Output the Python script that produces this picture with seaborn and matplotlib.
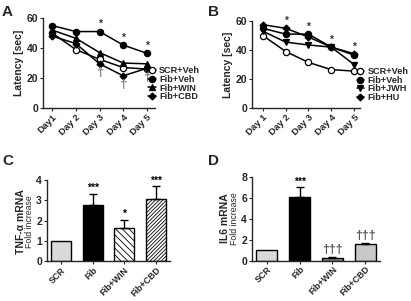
import numpy as np
import pandas as pd
import matplotlib
matplotlib.use("Agg")
import matplotlib.pyplot as plt
import seaborn as sns

sns.set_style("ticks")
plt.rcParams['font.family'] = ['Liberation Sans', 'DejaVu Sans']
plt.rcParams['font.weight'] = 'bold'
plt.rcParams['hatch.linewidth'] = 0.6

# ---- data ----
days_a = ["Day1", "Day 2", "Day 3", "Day 4", "Day 5"]
days_b = ["Day 1", "Day 2", "Day 3", "Day 4", "Day 5"]
a_scr = [50, 39, 32.5, 27, 26]
a_fib = [55, 51, 51, 42, 36.5]
a_win = [52, 46.5, 37, 30, 29.5]
a_cbd = [48, 43, 29.5, 21.5, 26.5]
a_names = ["SCR+Veh", "Fib+Veh", "Fib+WIN", "Fib+CBD"]
b_scr = [50, 39, 31.5, 26.5, 25.5]
b_fib = [55, 51, 51, 42, 36.5]
b_jwh = [53, 45.5, 43.5, 42, 30]
b_hu = [57.5, 55, 49, 42, 37.5]
b_names = ["SCR+Veh", "Fib+Veh", "Fib+JWH", "Fib+HU"]

bar_groups = ["SCR", "Fib", "Fib+WIN", "Fib+CBD"]
c_vals = [1.0, 2.75, 1.65, 3.08]
c_err = [0.0, 0.57, 0.4, 0.6]
c_sig = ["", "***", "*", "***"]
d_vals = [1.0, 6.1, 0.25, 1.6]
d_err = [0.0, 0.9, 0.1, 0.12]
d_sig = ["", "***", "\u2020\u2020\u2020", "\u2020\u2020\u2020"]

fig = plt.figure(figsize=(4.11, 3.01), dpi=100)

def line_panel(ax, days, series, names, markers, fills, star_idx, dag_idx, xlim, leg_x):
    rows = []
    for name, vals in zip(names, series):
        for d, v in zip(days, vals):
            rows.append((name, d, v))
    df = pd.DataFrame(rows, columns=["group", "day", "lat"])
    df["x"] = df["day"].map({d: i for i, d in enumerate(days)})
    for name, m, f in zip(names, markers, fills):
        sub = df[df["group"] == name]
        sns.lineplot(data=sub, x="x", y="lat", ax=ax, color="black", lw=1.1,
                     marker=m, markersize=4.5 if m != 'D' else 3.5,
                     markerfacecolor=f, markeredgecolor="black", markeredgewidth=0.9,
                     label=name, legend=False)
    ax.set_xlim(*xlim)
    ax.set_ylim(0, 60)
    ax.set_yticks([0, 20, 40, 60])
    ax.set_xticks(range(len(days)))
    ax.set_xticklabels(days, rotation=45, ha="right", rotation_mode="anchor", fontsize=6.8, fontweight="bold")
    ax.tick_params(axis="y", labelsize=7.5, length=2.5, width=0.8, pad=1)
    ax.tick_params(axis="x", length=2.5, width=0.8, pad=1)
    for lab in ax.get_yticklabels():
        lab.set_fontweight("bold")
    ax.set_xlabel("")
    ax.set_ylabel("Latency [sec]", fontsize=7.5, fontweight="bold", labelpad=2)
    for s in ["top", "right"]:
        ax.spines[s].set_visible(False)
    for s in ["left", "bottom"]:
        ax.spines[s].set_linewidth(1.0)
    top = np.max(series, axis=0)
    for i in star_idx:
        ax.text(i, top[i] + 1.5, "*", ha="center", va="bottom", fontsize=7.5, color="#333333")
    low = np.min(series, axis=0)
    for i in dag_idx:
        ax.text(i, low[i] - 2, "\u2020", ha="center", va="top", fontsize=9.5, color="#808080")
    leg = ax.legend(loc="center left", bbox_to_anchor=(leg_x, 0.27), frameon=False,
                    fontsize=6.6, handlelength=0.8, handletextpad=0.4,
                    labelspacing=-0.05, borderpad=0, borderaxespad=0)
    for t in leg.get_texts():
        t.set_fontweight("bold")

axA = fig.add_axes([0.105, 0.641, 0.272, 0.299])
line_panel(axA, days_a, [a_scr, a_fib, a_win, a_cbd], a_names,
           ["o", "o", "^", "D"], ["white", "black", "black", "black"],
           [2, 3, 4], [2, 3, 4], (-0.38, 4.34), 0.94)
axB = fig.add_axes([0.613, 0.641, 0.263, 0.289])
line_panel(axB, days_b, [b_scr, b_fib, b_jwh, b_hu], b_names,
           ["o", "o", "v", "D"], ["white", "black", "black", "black"],
           [1, 2, 3, 4], [], (-0.48, 4.26), 0.97)

def bar_panel(ax, vals, errs, sigs, colors, hatches, ymax, yticks, sigcolors, sigsizes):
    df = pd.DataFrame({"g": bar_groups, "v": vals})
    sns.barplot(data=df, x="g", y="v", ax=ax, width=0.63, errorbar=None,
                palette=colors, hue="g", legend=False, edgecolor="black", linewidth=1.0)
    for p, h in zip(ax.patches, hatches):
        if h:
            p.set_hatch(h)
    x = np.arange(len(vals))
    for xi, v, e in zip(x, vals, errs):
        if e > 0:
            ax.errorbar([xi], [v], yerr=[[0], [e]], fmt="none", ecolor="black",
                        elinewidth=1.0, capsize=3, capthick=1.0)
    for xi, v, e, s, c, fs in zip(x, vals, errs, sigs, sigcolors, sigsizes):
        if s:
            ax.text(xi, v + e + ymax * 0.01, s, ha="center", va="bottom",
                    fontsize=fs, color=c)
    ax.set_ylim(0, ymax)
    ax.set_yticks(yticks)
    ax.set_xlim(-0.45, 3.45)
    ax.set_xticks(x)
    ax.set_xticklabels(bar_groups, rotation=45, ha="right", rotation_mode="anchor",
                       fontsize=6.4, fontweight="bold")
    ax.tick_params(axis="y", labelsize=7.5, length=2.5, width=0.8, pad=1)
    ax.tick_params(axis="x", length=2.5, width=0.8, pad=0.5)
    for lab in ax.get_yticklabels():
        lab.set_fontweight("bold")
    ax.set_xlabel("")
    ax.set_ylabel("")
    for s in ["top", "right"]:
        ax.spines[s].set_visible(False)
    for s in ["left", "bottom"]:
        ax.spines[s].set_linewidth(1.0)

axC = fig.add_axes([0.114, 0.132, 0.300, 0.270])
bar_panel(axC, c_vals, c_err, c_sig, ["#d9d9d9", "black", "white", "white"],
          [None, None, "\\\\\\\\\\", "/////////"], 4, [0, 1, 2, 3, 4],
          ["black"] * 4, [7.5] * 4)
fig.text(0.050, 0.265, "TNF-\u03b1 mRNA", rotation=90, ha="center", va="center",
         fontsize=7.5, fontweight="bold")
fig.text(0.071, 0.265, "Fold increase", rotation=90, ha="center", va="center",
         fontsize=6.3, fontweight="normal")

axD = fig.add_axes([0.613, 0.134, 0.312, 0.278])
bar_panel(axD, d_vals, d_err, d_sig, ["#d9d9d9", "black", "#8c8c8c", "#c8c8c8"],
          [None, None, None, None], 8, [0, 2, 4, 6, 8],
          ["black", "black", "#555555", "#555555"], [7.5, 7.5, 9, 9])
fig.text(0.548, 0.275, "IL6 mRNA", rotation=90, ha="center", va="center",
         fontsize=7.5, fontweight="bold")
fig.text(0.570, 0.275, "Fold increase", rotation=90, ha="center", va="center",
         fontsize=6.3, fontweight="normal")

for lbl, (x, y) in zip("ABCD", [(0.005, 0.985), (0.505, 0.985), (0.005, 0.49), (0.505, 0.49)]):
    fig.text(x, y, lbl, fontsize=11, fontweight="bold", ha="left", va="top")

fig.savefig("out.png", dpi=100)
